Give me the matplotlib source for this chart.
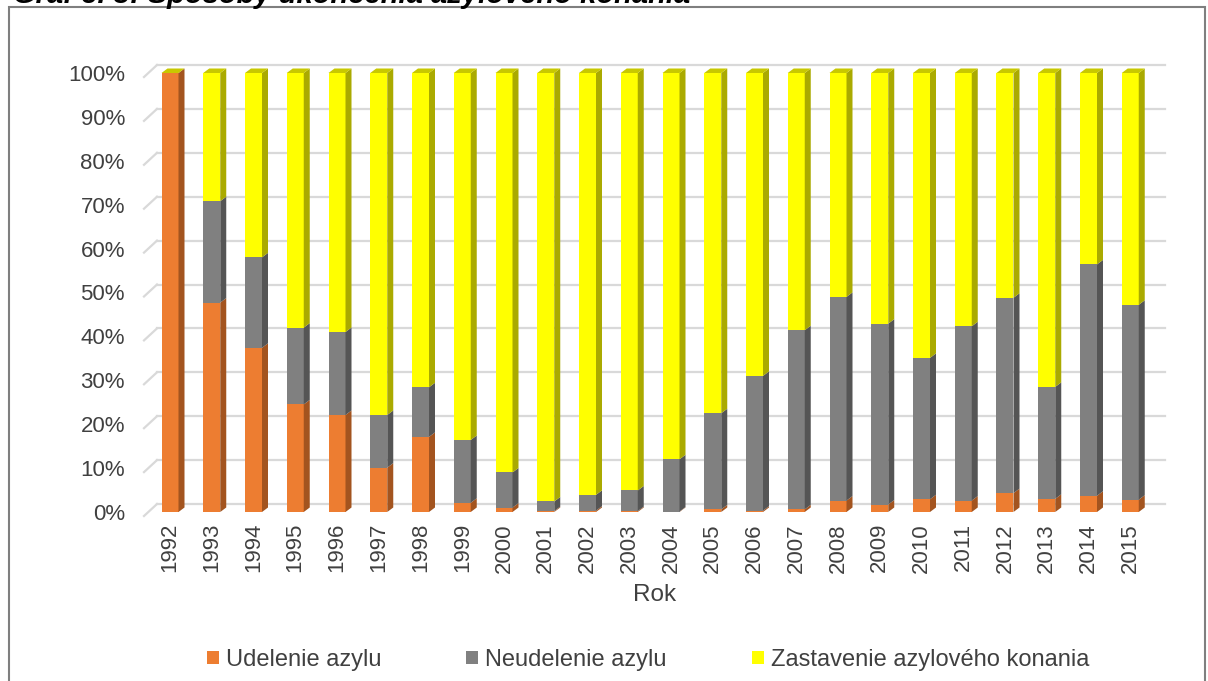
import matplotlib.pyplot as plt
from matplotlib.patches import Polygon, Rectangle
from matplotlib.lines import Line2D

plt.rcParams['font.family'] = ['Liberation Sans', 'DejaVu Sans']

years = [str(y) for y in range(1992, 2016)]
udelenie = [100.0, 47.7, 37.4, 24.5, 22.1, 10.1, 17.1, 2.1, 1.0, 0.2, 0.3, 0.2,
            0.1, 0.6, 0.3, 0.6, 2.6, 1.7, 2.9, 2.6, 4.3, 3.0, 3.7, 2.8]
neudelenie = [0.0, 23.1, 20.6, 17.5, 18.9, 12.0, 11.3, 14.3, 8.0, 2.2, 3.6, 4.7,
              11.9, 21.9, 30.7, 40.8, 46.4, 41.2, 32.2, 39.7, 44.5, 25.5, 52.7, 44.4]
zastavenie = [0.0, 29.2, 42.0, 58.0, 59.0, 77.9, 71.6, 83.6, 91.0, 97.6, 96.1, 95.1,
              88.0, 77.5, 69.0, 58.6, 51.0, 57.1, 64.9, 57.7, 51.2, 71.5, 43.6, 52.8]

series = [
    ("Udelenie azylu", udelenie, "#ED7D31", "#A3541F"),
    ("Neudelenie azylu", neudelenie, "#808080", "#555555"),
    ("Zastavenie azylového konania", zastavenie, "#FFFF00", "#AAAA00"),
]
top_color = "#C8C800"

W, H = 1208, 681
fig = plt.figure(figsize=(W / 100, H / 100), dpi=100)

# axes placement in pixels (front faces of the pseudo-3D bars)
px_left, px_right = 143, 1166
px_zero, px_top = 512, 64
ax = fig.add_axes([px_left / W, 1 - px_zero / H,
                   (px_right - px_left) / W, (px_zero - px_top) / H])
step = 41.75                      # pixels per category
xmin = (px_left - 170) / step
xmax = (px_right - 170) / step
ymax = (px_zero - px_top) / 4.39
ax.set_xlim(xmin, xmax)
ax.set_ylim(0, ymax)

sx = 1 / step      # data units per pixel, x
sy = 1 / 4.39      # data units per pixel, y
dx, dy = 6 * sx, 4.5 * sy         # depth of bars
gy = 8 * sy                       # back wall offset of gridlines

# gridlines on the back wall
for v in range(0, 101, 10):
    yb = v + gy
    ax.add_line(Line2D([xmin + 14 * sx, xmax - 1 * sx], [yb, yb],
                       color="#D9D9D9", lw=1.6, zorder=0, clip_on=False))
    ax.add_line(Line2D([xmin + 1 * sx, xmin + 14 * sx], [yb - 12 * sy, yb],
                       color="#D9D9D9", lw=1.6, zorder=0, clip_on=False))

xs = list(range(len(years)))
width = 17 * sx
bottoms = [0.0] * len(years)
for name, vals, col, side in series:
    ax.bar(xs, vals, width=width, bottom=bottoms, color=col, label=name,
           zorder=2, linewidth=0)
    for i, (b, v) in enumerate(zip(bottoms, vals)):
        if v <= 0:
            continue
        xr = i + width / 2
        ax.add_patch(Polygon([(xr, b), (xr + dx, b + dy), (xr + dx, b + v + dy), (xr, b + v)],
                             closed=True, facecolor=side, edgecolor="none", zorder=2))
    bottoms = [b + v for b, v in zip(bottoms, vals)]

# top faces
for i, t in enumerate(bottoms):
    xl, xr = i - width / 2, i + width / 2
    ax.add_patch(Polygon([(xl, t), (xl + dx, t + dy), (xr + dx, t + dy), (xr, t)],
                         closed=True, facecolor=top_color, edgecolor="none", zorder=2,
                         clip_on=False))

for s in ax.spines.values():
    s.set_visible(False)
ax.set_yticks(range(0, 101, 10))
ax.set_yticklabels([f"{v}%" for v in range(0, 101, 10)])
ax.set_xticks(xs)
ax.set_xticklabels(years, rotation=90)
ax.tick_params(axis="both", length=0, labelsize=16, colors="#404040")
ax.tick_params(axis="y", pad=13)
ax.tick_params(axis="x", pad=8)
ax.set_xlabel("Rok", fontsize=17.5, color="#404040", labelpad=8)

fig.legend(loc="center", bbox_to_anchor=(648 / W, 1 - 660 / H), ncol=3, frameon=False,
           fontsize=17, handlelength=0.5, handleheight=0.5, handletextpad=0.3,
           columnspacing=3.6, labelcolor="#404040")

# outer frame and cut-off title
fig.patches.append(Rectangle((9 / W, -0.01), (1205 - 9) / W, 1 - 7 / H + 0.01,
                             transform=fig.transFigure, fill=False,
                             edgecolor="#7F7F7F", lw=1.5))
fig.text(13 / W, 1 - 3 / H, "Graf č. 3: Spôsoby ukončenia azylového konania",
         fontsize=21, fontweight="bold", fontstyle="italic", va="baseline", ha="left")

fig.savefig("out.png", dpi=100)
